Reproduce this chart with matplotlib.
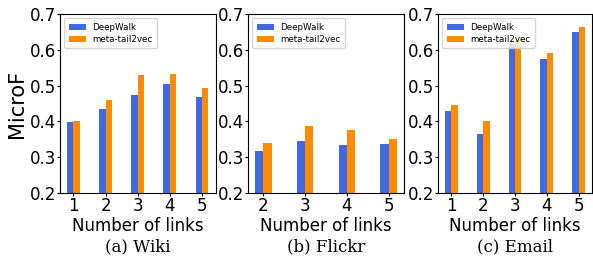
import numpy as np
import matplotlib.pyplot as plt

# values
wiki_links = [1, 2, 3, 4, 5]
wiki_deepwalk = [0.399, 0.435, 0.474, 0.504, 0.468]
wiki_meta = [0.402, 0.460, 0.530, 0.532, 0.494]

flickr_links = [2, 3, 4, 5]
flickr_deepwalk = [0.318, 0.345, 0.334, 0.337]
flickr_meta = [0.340, 0.388, 0.376, 0.351]

email_links = [1, 2, 3, 4, 5]
email_deepwalk = [0.430, 0.365, 0.615, 0.575, 0.650]
email_meta = [0.446, 0.401, 0.630, 0.591, 0.664]

panels = [
    ('(a) Wiki', wiki_links, wiki_deepwalk, wiki_meta),
    ('(b) Flickr', flickr_links, flickr_deepwalk, flickr_meta),
    ('(c) Email', email_links, email_deepwalk, email_meta),
]

fig = plt.figure(figsize=(5.93, 2.56), dpi=100)
# axes boxes in pixels: left, right
boxes = [(60, 215.5), (248, 404), (438, 592)]
top, bottom = 14, 193

w = 0.2
for (caption, links, dw, mt), (l, r) in zip(panels, boxes):
    ax = fig.add_axes([l / 593, (256 - bottom) / 256, (r - l) / 593, (bottom - top) / 256])
    x = np.arange(len(links))
    ax.bar(x - w / 2, dw, w, color='royalblue', label='DeepWalk')
    ax.bar(x + w / 2, mt, w, color='darkorange', label='meta-tail2vec')
    ax.set_ylim(0.2, 0.7)
    ax.set_yticks([0.2, 0.3, 0.4, 0.5, 0.6, 0.7])
    ax.set_xticks(x)
    ax.set_xticklabels([str(v) for v in links])
    ax.tick_params(labelsize=12, length=2, pad=1)
    ax.set_xlabel('Number of links', fontsize=12, labelpad=1)
    ax.legend(loc='upper left', fontsize=6.3, handlelength=2.0, frameon=True,
              borderpad=0.5, labelspacing=0.35, handletextpad=0.7)
    cx = (l + r) / 2 / 593
    fig.text(cx, (256 - 247) / 256, caption, ha='center', va='center',
             fontsize=12, family='DejaVu Serif')
    if caption.startswith('(a)'):
        ax.set_ylabel('MicroF', fontsize=15, labelpad=2)

plt.savefig('out.png', dpi=100)
